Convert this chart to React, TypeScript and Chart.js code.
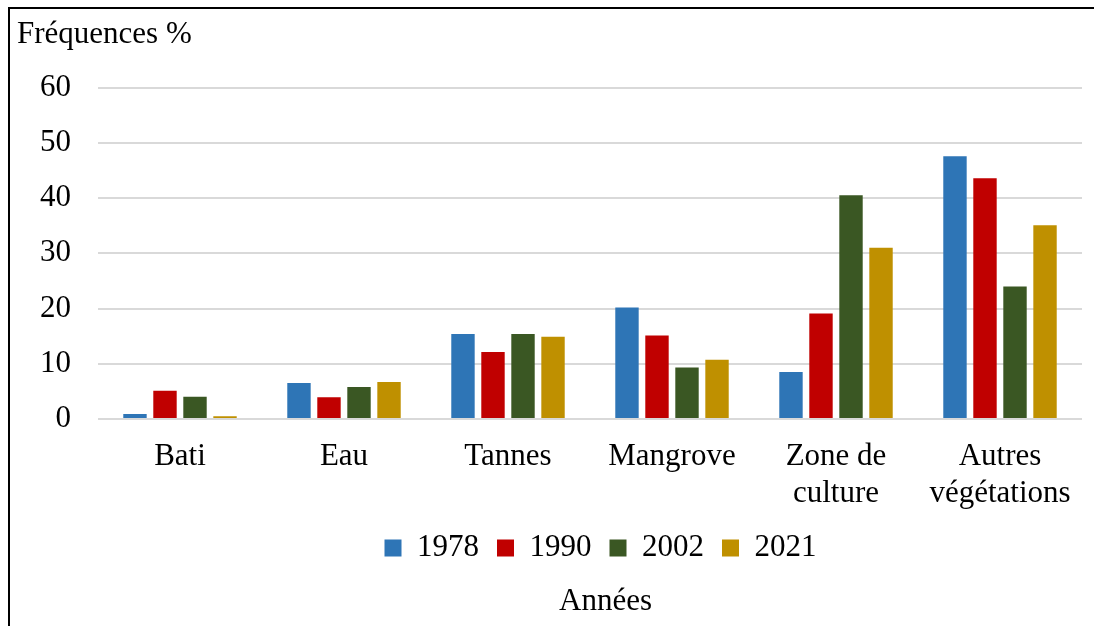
import React, { useEffect, useRef } from "react";
import { Chart, registerables } from "chart.js";

Chart.register(...registerables);

const categories: (string | string[])[] = [
  "Bati",
  "Eau",
  "Tannes",
  "Mangrove",
  ["Zone de", "culture"],
  ["Autres", "végétations"],
];
const years = ["1978", "1990", "2002", "2021"];
const values1978 = [0.9, 6.5, 15.4, 20.2, 8.5, 47.6];
const values1990 = [5.1, 3.9, 12.1, 15.1, 19.1, 43.6];
const values2002 = [4.0, 5.8, 15.4, 9.3, 40.5, 24.0];
const values2021 = [0.5, 6.7, 14.9, 10.7, 31.0, 35.1];
const yTicks = [0, 10, 20, 30, 40, 50, 60];
const colors = ["#2E75B6", "#C00000", "#3A5723", "#BF9000"];
const yTitle = "Fréquences %";
const xTitle = "Années";

const FONT = "'Liberation Serif', 'Times New Roman', serif";
const FS = 31;
const LEGEND_DX = 51;
const SUBTITLE_DX = 56;

const shiftPlugin = {
  id: "shiftBottom",
  afterLayout(chart: any) {
    const lg = chart.legend;
    if (lg) {
      lg.left += LEGEND_DX;
      lg.right += LEGEND_DX;
    }
    for (const b of chart.boxes) {
      if (b && b.options && b.options.text === xTitle) {
        b.left += SUBTITLE_DX;
        b.right += SUBTITLE_DX;
      }
    }
  },
};

export default function App() {
  const ref = useRef<HTMLCanvasElement | null>(null);
  useEffect(() => {
    if (!ref.current) return;
    const series = [values1978, values1990, values2002, values2021];
    const chart = new Chart(ref.current, {
      type: "bar",
      data: {
        labels: categories,
        datasets: years.map((y, i) => ({
          label: y,
          data: series[i],
          backgroundColor: colors[i],
          borderWidth: 0,
          categoryPercentage: 0.732,
          barPercentage: 0.78,
        })),
      },
      options: {
        responsive: false,
        animation: false,
        devicePixelRatio: 1,
        layout: { padding: { left: 7, right: 12, top: 0, bottom: 6 } },
        scales: {
          x: {
            grid: { display: false, drawTicks: false },
            border: { display: false },
            afterFit: (scale: any) => {
              scale.height = 95.5;
            },
            ticks: {
              color: "#000",
              font: { family: FONT, size: FS },
              padding: 18.9,
              maxRotation: 0,
              autoSkip: false,
            },
          },
          y: {
            min: 0,
            max: 60,
            afterBuildTicks: (scale: any) => {
              scale.ticks = yTicks.map((v) => ({ value: v }));
            },
            afterFit: (scale: any) => {
              scale.width = 81;
            },
            grid: { color: "#d9d9d9", lineWidth: 2, drawTicks: false },
            border: { display: false },
            ticks: {
              color: "#000",
              font: { family: FONT, size: FS },
              padding: 27,
            },
          },
        },
        plugins: {
          title: {
            display: true,
            text: yTitle,
            align: "start",
            color: "#000",
            font: { family: FONT, size: FS, weight: "normal" },
            padding: { top: 7, bottom: 34.5 },
          },
          subtitle: {
            display: true,
            text: xTitle,
            position: "bottom",
            color: "#000",
            font: { family: FONT, size: FS, weight: "normal" },
            padding: { top: 9.4, bottom: 0 },
          },
          legend: {
            position: "bottom",
            labels: {
              color: "#000",
              font: { family: FONT, size: FS },
              boxWidth: 17,
              boxHeight: 17,
              padding: 18,
            },
          },
          tooltip: { enabled: false },
        },
      },
      plugins: [shiftPlugin],
    });
    return () => chart.destroy();
  }, []);

  return (
    <div
      style={{
        position: "fixed",
        left: 8,
        top: 7,
        width: 1086,
        height: 619,
        boxSizing: "border-box",
        borderTop: "2px solid #000",
        borderLeft: "2px solid #000",
        overflow: "hidden",
        background: "#fff",
      }}
    >
      <canvas ref={ref} width={1084} height={617} style={{ display: "block" }} />
    </div>
  );
}
